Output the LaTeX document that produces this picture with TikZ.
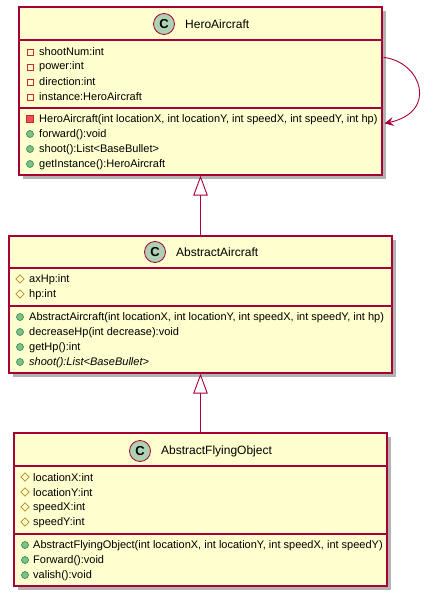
\documentclass[tikz,border=0pt]{standalone}
\usepackage{fontspec}
\setmainfont{Liberation Sans}
\usetikzlibrary{arrows.meta,calc,shapes.geometric}
\definecolor{cfill}{HTML}{FEFECE}
\definecolor{cline}{HTML}{A80036}
\definecolor{cbadge}{HTML}{ADD1B2}
\definecolor{privline}{HTML}{C82930}
\definecolor{privfill}{HTML}{F24D5C}
\definecolor{protline}{HTML}{B38D22}
\definecolor{publine}{HTML}{038048}
\definecolor{pubfill}{HTML}{84BE84}
\tikzset{
  classbox/.style={draw=cline, fill=cfill, line width=1.2pt, inner sep=0pt, rectangle},
  shadowbox/.style={fill=black!30, draw=none, inner sep=0pt, rectangle},
  sepline/.style={draw=cline, line width=1.1pt},
  badge/.style={circle, draw=cline, fill=cbadge, line width=0.8pt, minimum size=21pt, inner sep=0pt, font=\fontsize{13}{13}\selectfont\bfseries},
  title/.style={anchor=west, inner sep=0pt, font=\fontsize{12}{12}\selectfont},
  member/.style={anchor=west, inner sep=0pt, font=\fontsize{11}{11}\selectfont},
  privattr/.style={rectangle, draw=privline, line width=0.7pt, minimum size=6pt, inner sep=0pt},
  privmeth/.style={rectangle, draw=privline, fill=privfill, line width=0.7pt, minimum size=7pt, inner sep=0pt},
  protattr/.style={diamond, draw=protline, line width=0.7pt, minimum size=8.5pt, inner sep=0pt},
  pubmeth/.style={circle, draw=publine, fill=pubfill, line width=0.5pt, minimum size=7pt, inner sep=0pt},
  inherit/.style={draw=cline, line width=0.9pt, -{Triangle[open, length=20pt, width=14.5pt, fill=white]}},
  selfarrow/.style={draw=cline, line width=0.9pt, -{Stealth[length=9pt, width=9pt, inset=3.5pt]}},
}
\begin{document}
\begin{tikzpicture}[x=1pt,y=-1pt]
\useasboundingbox (0,0) rectangle (423,599);
% ---------- shadows
\node[shadowbox, minimum width=363pt, minimum height=168pt] (herosh) at (204.5,95) {};
\node[shadowbox, minimum width=383pt, minimum height=137pt] (abssh) at (204.5,308.5) {};
\node[shadowbox, minimum width=373pt, minimum height=153pt] (flysh) at (204.5,513.5) {};
% ---------- HeroAircraft
\node[classbox, minimum width=363pt, minimum height=168pt] (hero) at (200.5,91) {};
\draw[sepline] (19,40) -- (382,40);
\draw[sepline] (19,108) -- (382,108);
\node[badge] (herobadge) at (164,24) {C};
\node[title] (herotitle) at (185,24) {HeroAircraft};
\node[privattr] (ha1) at (30,52) {};
\node[member] (hm1) at (39,52) {shootNum:int};
\node[privattr] (ha2) at (30,67) {};
\node[member] (hm2) at (39,67) {power:int};
\node[privattr] (ha3) at (30,82) {};
\node[member] (hm3) at (39,82) {direction:int};
\node[privattr] (ha4) at (30,97) {};
\node[member] (hm4) at (39,97) {instance:HeroAircraft};
\node[privmeth] (hb1) at (30,119) {};
\node[member] (hn1) at (39,120) {HeroAircraft(int locationX, int locationY, int speedX, int speedY, int hp)};
\node[pubmeth] (hb2) at (30,134) {};
\node[member] (hn2) at (39,135) {forward():void};
\node[pubmeth] (hb3) at (30,149) {};
\node[member] (hn3) at (39,150) {shoot():List<BaseBullet>};
\node[pubmeth] (hb4) at (30,164) {};
\node[member] (hn4) at (39,165) {getInstance():HeroAircraft};
% ---------- AbstractAircraft
\node[classbox, minimum width=383pt, minimum height=137pt] (abs) at (200.5,304.5) {};
\draw[sepline] (9,268) -- (392,268);
\draw[sepline] (9,306) -- (392,306);
\node[badge] (absbadge) at (155,252) {C};
\node[title] (abstitle) at (176,252) {AbstractAircraft};
\node[protattr] (aa1) at (20,279) {};
\node[member] (am1) at (29,280) {axHp:int};
\node[protattr] (aa2) at (20,294) {};
\node[member] (am2) at (29,295) {hp:int};
\node[pubmeth] (ab1) at (20,317) {};
\node[member] (an1) at (29,318) {AbstractAircraft(int locationX, int locationY, int speedX, int speedY, int hp)};
\node[pubmeth] (ab2) at (20,332) {};
\node[member] (an2) at (29,333) {decreaseHp(int decrease):void};
\node[pubmeth] (ab3) at (20,347) {};
\node[member] (an3) at (29,348) {getHp():int};
\node[pubmeth] (ab4) at (20,362) {};
\node[member] (an4) at (29,363) {\itshape shoot():List<BaseBullet>};
% ---------- AbstractFlyingObject
\node[classbox, minimum width=373pt, minimum height=153pt] (fly) at (200.5,509.5) {};
\draw[sepline] (14,466) -- (387,466);
\draw[sepline] (14,534) -- (387,534);
\node[badge] (flybadge) at (140,451) {C};
\node[title] (flytitle) at (161,451) {AbstractFlyingObject};
\node[protattr] (fa1) at (25,477) {};
\node[member] (fm1) at (33,478) {locationX:int};
\node[protattr] (fa2) at (25,492) {};
\node[member] (fm2) at (33,493) {locationY:int};
\node[protattr] (fa3) at (25,507) {};
\node[member] (fm3) at (33,508) {speedX:int};
\node[protattr] (fa4) at (25,522) {};
\node[member] (fm4) at (33,523) {speedY:int};
\node[pubmeth] (fb1) at (25,545) {};
\node[member] (fn1) at (33,546) {AbstractFlyingObject(int locationX, int locationY, int speedX, int speedY)};
\node[pubmeth] (fb2) at (25,560) {};
\node[member] (fn2) at (33,561) {Forward():void};
\node[pubmeth] (fb3) at (25,575) {};
\node[member] (fn3) at (33,576) {valish():void};
% ---------- connectors
\draw[inherit] (abs.north) -- (hero.south);
\draw[inherit] (fly.north) -- (abs.south);
\coordinate (loopstart) at ($(hero.north east)+(1,51)$);
\coordinate (loopend) at ($(hero.north east)+(2,117)$);
\draw[selfarrow] (loopstart) .. controls (422,62) and (438,112) .. (loopend);
\end{tikzpicture}
\end{document}
